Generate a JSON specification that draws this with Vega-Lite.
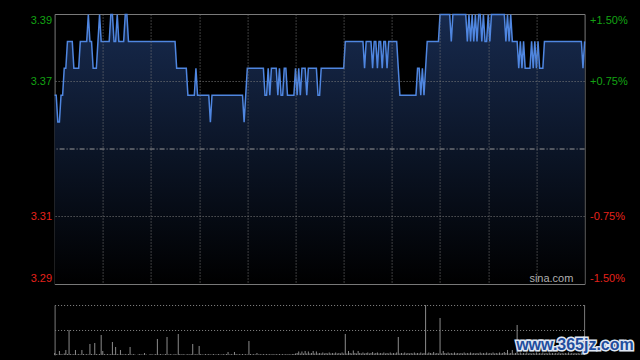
{
"$schema": "https://vega.github.io/schema/vega-lite/v6.json",
"background": "#000000",
"autosize": {"type": "pad"},
"padding": {"left": 29.6, "top": 10, "right": 5, "bottom": 5},
"spacing": 21,
"bounds": "flush",
"config": {"view": {"stroke": null}, "font": "Liberation Sans"},
"datasets": {"min": [
{"m":0,"p":3.365,"v":4},{"m":1,"p":3.365,"v":2},{"m":2,"p":3.355,"v":1},{"m":3,"p":3.355,"v":8},{"m":4,"p":3.365,"v":2},{"m":5,"p":3.365,"v":1},{"m":6,"p":3.375,"v":3},{"m":7,"p":3.375,"v":10},{"m":8,"p":3.385,"v":2},{"m":9,"p":3.385,"v":50},
{"m":10,"p":3.385,"v":2},{"m":11,"p":3.385,"v":1},{"m":12,"p":3.375,"v":2},{"m":13,"p":3.375,"v":10},{"m":14,"p":3.375,"v":1},{"m":15,"p":3.375,"v":2},{"m":16,"p":3.385,"v":1},{"m":17,"p":3.385,"v":10},{"m":18,"p":3.385,"v":2},{"m":19,"p":3.385,"v":1},
{"m":20,"p":3.385,"v":2},{"m":21,"p":3.395,"v":1},{"m":22,"p":3.385,"v":22},{"m":23,"p":3.385,"v":2},{"m":24,"p":3.375,"v":1},{"m":25,"p":3.375,"v":24},{"m":26,"p":3.375,"v":2},{"m":27,"p":3.385,"v":1},{"m":28,"p":3.395,"v":2},{"m":29,"p":3.385,"v":40},
{"m":30,"p":3.385,"v":8},{"m":31,"p":3.385,"v":2},{"m":32,"p":3.385,"v":1},{"m":33,"p":3.385,"v":2},{"m":34,"p":3.385,"v":1},{"m":35,"p":3.395,"v":2},{"m":36,"p":3.395,"v":26},{"m":37,"p":3.385,"v":2},{"m":38,"p":3.385,"v":16},{"m":39,"p":3.395,"v":2},
{"m":40,"p":3.385,"v":1},{"m":41,"p":3.385,"v":10},{"m":42,"p":3.385,"v":2},{"m":43,"p":3.385,"v":1},{"m":44,"p":3.395,"v":2},{"m":45,"p":3.395,"v":1},{"m":46,"p":3.385,"v":2},{"m":47,"p":3.385,"v":16},{"m":48,"p":3.385,"v":1},{"m":49,"p":3.385,"v":2},
{"m":50,"p":3.385,"v":1},{"m":51,"p":3.385,"v":0},{"m":52,"p":3.385,"v":1},{"m":53,"p":3.385,"v":2},{"m":54,"p":3.385,"v":1},{"m":55,"p":3.385,"v":1},{"m":56,"p":3.385,"v":4},{"m":57,"p":3.385,"v":1},{"m":58,"p":3.385,"v":0},{"m":59,"p":3.385,"v":1},
{"m":60,"p":3.385,"v":2},{"m":61,"p":3.385,"v":1},{"m":62,"p":3.385,"v":1},{"m":63,"p":3.385,"v":2},{"m":64,"p":3.385,"v":32},{"m":65,"p":3.385,"v":1},{"m":66,"p":3.385,"v":2},{"m":67,"p":3.385,"v":1},{"m":68,"p":3.385,"v":1},{"m":69,"p":3.385,"v":2},
{"m":70,"p":3.385,"v":36},{"m":71,"p":3.385,"v":1},{"m":72,"p":3.385,"v":2},{"m":73,"p":3.385,"v":1},{"m":74,"p":3.385,"v":1},{"m":75,"p":3.385,"v":2},{"m":76,"p":3.375,"v":1},{"m":77,"p":3.375,"v":42},{"m":78,"p":3.375,"v":2},{"m":79,"p":3.375,"v":1},
{"m":80,"p":3.375,"v":2},{"m":81,"p":3.375,"v":1},{"m":82,"p":3.375,"v":1},{"m":83,"p":3.365,"v":2},{"m":84,"p":3.365,"v":1},{"m":85,"p":3.365,"v":2},{"m":86,"p":3.365,"v":22},{"m":87,"p":3.365,"v":1},{"m":88,"p":3.375,"v":2},{"m":89,"p":3.365,"v":1},
{"m":90,"p":3.365,"v":18},{"m":91,"p":3.365,"v":2},{"m":92,"p":3.365,"v":1},{"m":93,"p":3.365,"v":1},{"m":94,"p":3.365,"v":2},{"m":95,"p":3.365,"v":1},{"m":96,"p":3.365,"v":2},{"m":97,"p":3.355,"v":1},{"m":98,"p":3.365,"v":1},{"m":99,"p":3.365,"v":2},
{"m":100,"p":3.365,"v":1},{"m":101,"p":3.365,"v":1},{"m":102,"p":3.365,"v":2},{"m":103,"p":3.365,"v":1},{"m":104,"p":3.365,"v":1},{"m":105,"p":3.365,"v":2},{"m":106,"p":3.365,"v":1},{"m":107,"p":3.365,"v":2},{"m":108,"p":3.365,"v":6},{"m":109,"p":3.365,"v":1},
{"m":110,"p":3.365,"v":2},{"m":111,"p":3.365,"v":1},{"m":112,"p":3.365,"v":6},{"m":113,"p":3.365,"v":2},{"m":114,"p":3.365,"v":1},{"m":115,"p":3.365,"v":2},{"m":116,"p":3.365,"v":1},{"m":117,"p":3.365,"v":2},{"m":118,"p":3.355,"v":1},{"m":119,"p":3.365,"v":2},
{"m":120,"p":3.375,"v":1},{"m":121,"p":3.375,"v":28},{"m":122,"p":3.375,"v":2},{"m":123,"p":3.375,"v":1},{"m":124,"p":3.375,"v":2},{"m":125,"p":3.375,"v":1},{"m":126,"p":3.375,"v":4},{"m":127,"p":3.375,"v":1},{"m":128,"p":3.375,"v":2},{"m":129,"p":3.375,"v":1},
{"m":130,"p":3.375,"v":2},{"m":131,"p":3.365,"v":1},{"m":132,"p":3.365,"v":2},{"m":133,"p":3.375,"v":1},{"m":134,"p":3.365,"v":2},{"m":135,"p":3.375,"v":1},{"m":136,"p":3.375,"v":2},{"m":137,"p":3.375,"v":1},{"m":138,"p":3.375,"v":2},{"m":139,"p":3.365,"v":1},
{"m":140,"p":3.375,"v":2},{"m":141,"p":3.365,"v":1},{"m":142,"p":3.365,"v":2},{"m":143,"p":3.375,"v":1},{"m":144,"p":3.375,"v":2},{"m":145,"p":3.365,"v":1},{"m":146,"p":3.365,"v":2},{"m":147,"p":3.365,"v":1},{"m":148,"p":3.365,"v":2},{"m":149,"p":3.365,"v":2},
{"m":150,"p":3.375,"v":3},{"m":151,"p":3.365,"v":4},{"m":152,"p":3.375,"v":7},{"m":153,"p":3.365,"v":3},{"m":154,"p":3.375,"v":7},{"m":155,"p":3.375,"v":3},{"m":156,"p":3.375,"v":8},{"m":157,"p":3.365,"v":3},{"m":158,"p":3.375,"v":7},{"m":159,"p":3.375,"v":3},
{"m":160,"p":3.375,"v":4},{"m":161,"p":3.375,"v":8},{"m":162,"p":3.375,"v":3},{"m":163,"p":3.375,"v":7},{"m":164,"p":3.365,"v":3},{"m":165,"p":3.365,"v":4},{"m":166,"p":3.375,"v":3},{"m":167,"p":3.375,"v":5},{"m":168,"p":3.375,"v":3},{"m":169,"p":3.375,"v":4},
{"m":170,"p":3.375,"v":3},{"m":171,"p":3.375,"v":5},{"m":172,"p":3.375,"v":3},{"m":173,"p":3.375,"v":4},{"m":174,"p":3.375,"v":3},{"m":175,"p":3.375,"v":5},{"m":176,"p":3.375,"v":3},{"m":177,"p":3.375,"v":4},{"m":178,"p":3.375,"v":3},{"m":179,"p":3.375,"v":5},
{"m":180,"p":3.375,"v":3},{"m":181,"p":3.385,"v":42},{"m":182,"p":3.385,"v":3},{"m":183,"p":3.385,"v":8},{"m":184,"p":3.385,"v":4},{"m":185,"p":3.385,"v":3},{"m":186,"p":3.385,"v":9},{"m":187,"p":3.385,"v":4},{"m":188,"p":3.385,"v":3},{"m":189,"p":3.385,"v":8},
{"m":190,"p":3.385,"v":4},{"m":191,"p":3.385,"v":3},{"m":192,"p":3.385,"v":5},{"m":193,"p":3.375,"v":3},{"m":194,"p":3.385,"v":4},{"m":195,"p":3.385,"v":5},{"m":196,"p":3.385,"v":3},{"m":197,"p":3.385,"v":4},{"m":198,"p":3.375,"v":6},{"m":199,"p":3.385,"v":3},
{"m":200,"p":3.385,"v":4},{"m":201,"p":3.375,"v":5},{"m":202,"p":3.385,"v":3},{"m":203,"p":3.385,"v":4},{"m":204,"p":3.375,"v":3},{"m":205,"p":3.385,"v":5},{"m":206,"p":3.385,"v":3},{"m":207,"p":3.375,"v":4},{"m":208,"p":3.385,"v":3},{"m":209,"p":3.385,"v":5},
{"m":210,"p":3.385,"v":3},{"m":211,"p":3.385,"v":4},{"m":212,"p":3.385,"v":3},{"m":213,"p":3.385,"v":5},{"m":214,"p":3.375,"v":36},{"m":215,"p":3.365,"v":3},{"m":216,"p":3.365,"v":4},{"m":217,"p":3.365,"v":3},{"m":218,"p":3.365,"v":5},{"m":219,"p":3.365,"v":3},
{"m":220,"p":3.365,"v":4},{"m":221,"p":3.365,"v":3},{"m":222,"p":3.365,"v":4},{"m":223,"p":3.365,"v":3},{"m":224,"p":3.365,"v":5},{"m":225,"p":3.365,"v":3},{"m":226,"p":3.375,"v":4},{"m":227,"p":3.375,"v":3},{"m":228,"p":3.365,"v":5},{"m":229,"p":3.375,"v":3},
{"m":230,"p":3.365,"v":4},{"m":231,"p":3.375,"v":100},{"m":232,"p":3.385,"v":3},{"m":233,"p":3.385,"v":5},{"m":234,"p":3.385,"v":4},{"m":235,"p":3.385,"v":3},{"m":236,"p":3.385,"v":6},{"m":237,"p":3.385,"v":3},{"m":238,"p":3.385,"v":4},{"m":239,"p":3.385,"v":3},
{"m":240,"p":3.395,"v":74},{"m":241,"p":3.395,"v":3},{"m":242,"p":3.395,"v":8},{"m":243,"p":3.395,"v":4},{"m":244,"p":3.395,"v":3},{"m":245,"p":3.395,"v":5},{"m":246,"p":3.395,"v":3},{"m":247,"p":3.385,"v":4},{"m":248,"p":3.395,"v":3},{"m":249,"p":3.395,"v":5},
{"m":250,"p":3.395,"v":3},{"m":251,"p":3.395,"v":4},{"m":252,"p":3.395,"v":3},{"m":253,"p":3.395,"v":4},{"m":254,"p":3.395,"v":3},{"m":255,"p":3.395,"v":5},{"m":256,"p":3.395,"v":3},{"m":257,"p":3.385,"v":4},{"m":258,"p":3.395,"v":3},{"m":259,"p":3.385,"v":5},
{"m":260,"p":3.395,"v":3},{"m":261,"p":3.385,"v":4},{"m":262,"p":3.395,"v":3},{"m":263,"p":3.385,"v":4},{"m":264,"p":3.395,"v":3},{"m":265,"p":3.395,"v":5},{"m":266,"p":3.385,"v":3},{"m":267,"p":3.395,"v":4},{"m":268,"p":3.385,"v":3},{"m":269,"p":3.385,"v":5},
{"m":270,"p":3.395,"v":3},{"m":271,"p":3.385,"v":4},{"m":272,"p":3.395,"v":3},{"m":273,"p":3.395,"v":5},{"m":274,"p":3.395,"v":3},{"m":275,"p":3.395,"v":4},{"m":276,"p":3.395,"v":3},{"m":277,"p":3.395,"v":5},{"m":278,"p":3.395,"v":3},{"m":279,"p":3.395,"v":4},
{"m":280,"p":3.395,"v":6},{"m":281,"p":3.385,"v":4},{"m":282,"p":3.395,"v":10},{"m":283,"p":3.385,"v":3},{"m":284,"p":3.395,"v":4},{"m":285,"p":3.385,"v":10},{"m":286,"p":3.385,"v":3},{"m":287,"p":3.385,"v":4},{"m":288,"p":3.385,"v":60},{"m":289,"p":3.375,"v":3},
{"m":290,"p":3.385,"v":5},{"m":291,"p":3.375,"v":3},{"m":292,"p":3.385,"v":4},{"m":293,"p":3.375,"v":3},{"m":294,"p":3.375,"v":5},{"m":295,"p":3.375,"v":3},{"m":296,"p":3.375,"v":4},{"m":297,"p":3.385,"v":3},{"m":298,"p":3.375,"v":4},{"m":299,"p":3.385,"v":3},
{"m":300,"p":3.375,"v":5},{"m":301,"p":3.385,"v":3},{"m":302,"p":3.375,"v":4},{"m":303,"p":3.375,"v":3},{"m":304,"p":3.375,"v":5},{"m":305,"p":3.385,"v":3},{"m":306,"p":3.385,"v":4},{"m":307,"p":3.385,"v":3},{"m":308,"p":3.385,"v":5},{"m":309,"p":3.385,"v":3},
{"m":310,"p":3.385,"v":4},{"m":311,"p":3.385,"v":3},{"m":312,"p":3.385,"v":4},{"m":313,"p":3.385,"v":3},{"m":314,"p":3.385,"v":5},{"m":315,"p":3.385,"v":3},{"m":316,"p":3.385,"v":4},{"m":317,"p":3.385,"v":3},{"m":318,"p":3.385,"v":4},{"m":319,"p":3.385,"v":3},
{"m":320,"p":3.385,"v":5},{"m":321,"p":3.385,"v":3},{"m":322,"p":3.385,"v":4},{"m":323,"p":3.385,"v":3},{"m":324,"p":3.385,"v":4},{"m":325,"p":3.385,"v":3},{"m":326,"p":3.385,"v":4},{"m":327,"p":3.385,"v":3},{"m":328,"p":3.385,"v":5},{"m":329,"p":3.375,"v":3},
{"m":330,"p":3.385,"v":6}
]},
"vconcat": [
{
 "width": 530, "height": 270,
 "view": {"stroke": "#7a7a7a"},
 "data": {"name": "min"},
 "layer": [
  {"mark": {"type": "area", "fill": {"gradient": "linear", "x1": 0, "y1": 0, "x2": 0, "y2": 1, "stops": [{"offset": 0, "color": "#172a4e"}, {"offset": 1, "color": "#000000"}]}},
   "encoding": {
    "x": {"field": "m", "type": "quantitative", "scale": {"domain": [0, 330], "nice": false, "zero": false},
          "axis": {"values": [30, 60, 90, 120, 150, 180, 210, 240, 270, 300], "grid": true, "gridDash": [1, 2], "gridColor": "#7a7a7a", "zindex": 1, "labels": false, "ticks": false, "domain": false, "title": null}},
    "y": {"field": "p", "type": "quantitative", "scale": {"domain": [3.294825, 3.395175], "nice": false, "zero": false},
          "axis": {"values": [3.294825, 3.319913, 3.370088, 3.395175], "grid": false, "ticks": false, "domain": false, "title": null, "labelFlush": true, "labelPadding": 3, "labelFontSize": 11, "labelFont": "Liberation Sans",
                   "labelExpr": "format(floor(datum.value*100+0.000001)/100, '.2f')",
                   "labelColor": {"condition": {"test": "datum.value > 3.345", "value": "#13a313"}, "value": "#e5221b"}}},
    "y2": {"datum": 3.294825}
   }},
  {"data": {"values": [{"p": 3.319913}, {"p": 3.370088}]},
   "mark": {"type": "rule", "stroke": "#7a7a7a", "strokeDash": [1, 2]},
   "encoding": {"y": {"field": "p", "type": "quantitative", "scale": {"domain": [3.294825, 3.395175], "nice": false, "zero": false}, "axis": null}}},
  {"mark": {"type": "line", "stroke": "#4f86e0", "strokeWidth": 1.5},
   "encoding": {
    "x": {"field": "m", "type": "quantitative", "scale": {"domain": [0, 330], "nice": false, "zero": false},
          "axis": {"values": [30, 60, 90, 120, 150, 180, 210, 240, 270, 300], "grid": true, "gridDash": [1, 2], "gridColor": "#7a7a7a", "zindex": 1, "labels": false, "ticks": false, "domain": false, "title": null}},
    "y": {"field": "p", "type": "quantitative", "scale": {"domain": [3.294825, 3.395175], "nice": false, "zero": false}, "axis": null}
   }},
  {"data": {"values": [{"pct": 0}]},
   "mark": {"type": "rule", "stroke": "#9a9a9a", "strokeDash": [5, 2, 1, 2]},
   "encoding": {"y": {"field": "pct", "type": "quantitative", "scale": {"domain": [-1.5, 1.5], "nice": false, "zero": false},
     "axis": {"orient": "right", "values": [-1.5, -0.75, 0.75, 1.5], "grid": false, "ticks": false, "domain": false, "title": null, "labelFlush": true, "labelPadding": 5, "labelFontSize": 11, "labelFont": "Liberation Sans",
              "labelExpr": "(datum.value > 0 ? '+' : '-') + format(abs(datum.value), '.2f') + '%'",
              "labelColor": {"condition": {"test": "datum.value > 0", "value": "#13a313"}, "value": "#e5221b"}}}}},
  {"data": {"values": [{}]},
   "mark": {"type": "text", "text": "sina.com", "align": "right", "baseline": "middle", "fontSize": 11, "font": "Liberation Sans", "fill": "#b0b0b0"},
   "encoding": {
    "x": {"datum": 323, "type": "quantitative", "scale": {"domain": [0, 330], "nice": false, "zero": false}},
    "y": {"datum": 3.2967, "type": "quantitative", "scale": {"domain": [3.294825, 3.395175], "nice": false, "zero": false}, "axis": null}
   }}
 ],
 "resolve": {"scale": {"y": "independent"}}
},
{
 "width": 530, "height": 50,
 "data": {"name": "min"},
 "layer": [
  {"mark": {"type": "rule", "stroke": "#8c8c8c", "strokeWidth": 1},
   "encoding": {
    "x": {"field": "m", "type": "quantitative", "scale": {"domain": [0, 330], "nice": false, "zero": false}, "axis": null},
    "y": {"field": "v", "type": "quantitative", "scale": {"domain": [0, 100], "nice": false},
          "axis": {"values": [50, 100], "grid": true, "gridDash": [1, 2], "gridColor": "#8a8a8a", "labels": false, "ticks": false, "domain": true, "domainColor": "#7a7a7a", "title": null}},
    "y2": {"datum": 0}
   }},
  {"data": {"values": [{}]},
   "mark": {"type": "rule", "stroke": "#7a7a7a"},
   "encoding": {"x": {"datum": 330, "type": "quantitative"}}},
  {"data": {"values": [{}]},
   "mark": {"type": "text", "text": "www.365jz.com", "align": "center", "baseline": "middle", "fontSize": 16, "fontWeight": "bold", "font": "Liberation Sans", "fill": "#dfe6f2", "stroke": "#dfe6f2", "strokeWidth": 3},
   "encoding": {"x": {"datum": 324, "type": "quantitative"}, "y": {"datum": 20, "type": "quantitative"}}},
  {"data": {"values": [{}]},
   "mark": {"type": "text", "text": "www.365jz.com", "align": "center", "baseline": "middle", "fontSize": 16, "fontWeight": "bold", "font": "Liberation Sans", "fill": "#1f4d9e"},
   "encoding": {"x": {"datum": 324, "type": "quantitative"}, "y": {"datum": 20, "type": "quantitative"}}}
 ]
}
]
}
